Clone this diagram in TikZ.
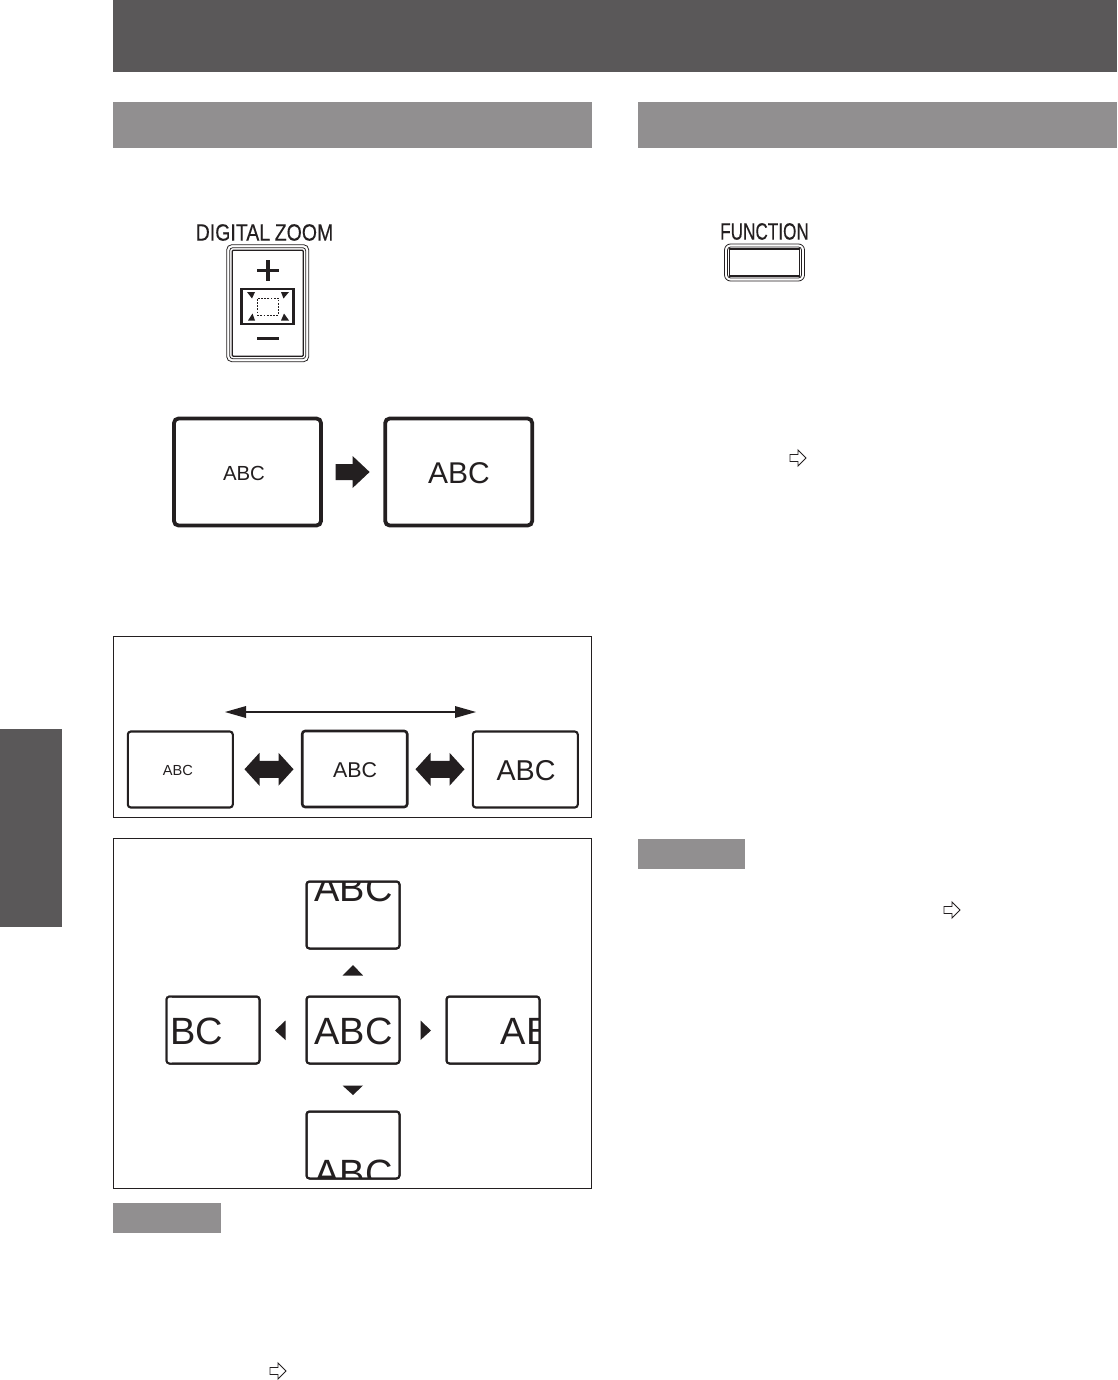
\documentclass[tikz,border=0pt]{standalone}
\usepackage{fontspec}
\setmainfont{Liberation Sans}
\newfontfamily\keyfont[FakeBold=0.35]{Liberation Sans}
\usetikzlibrary{calc}
\definecolor{band}{HTML}{5A5859}
\definecolor{sect}{HTML}{918F90}
\definecolor{ink}{HTML}{231F20}
\tikzset{
  x=1pt,y=-1pt,
  fillbox/.style={draw=none,inner sep=0pt,outer sep=0pt,anchor=north west},
  screen/.style={draw=ink,rounded corners=3pt,inner sep=0pt,outer sep=0pt,fill=white},
  bigscreen/.style={screen,rounded corners=4.5pt,line width=3.8pt,minimum width=147pt,minimum height=107pt},
  midscreen/.style={screen,line width=2.6pt,minimum width=105pt,minimum height=76pt},
  smallscreen/.style={screen,line width=2pt,minimum width=93pt,minimum height=67pt},
  panel/.style={draw=ink,line width=1pt,inner sep=0pt,outer sep=0pt,anchor=north west},
  abc/.style={inner sep=0pt,outer sep=0pt,text=ink},
  tri/.style={fill=ink,draw=none},
  hollow/.style={draw=ink,line width=0.9pt,fill=white,line join=miter},
  keyring/.style={draw=ink,line width=0.8pt,fill=white,inner sep=0pt},
  keylabel/.style={inner sep=0pt,outer sep=0pt,text=ink,font=\keyfont\fontsize{23.5}{23.5}\selectfont}
}
\newcommand{\ptr}[2]{\draw[hollow] (#1-8,#2-3.5) -- (#1,#2-3.5) -- (#1,#2-8) -- (#1+8,#2) -- (#1,#2+8) -- (#1,#2+3.5) -- (#1-8,#2+3.5) -- cycle;}
% double block arrow centred on a named coordinate
\newcommand{\biblock}[1]{\fill[tri] ($(#1)+(-24.5,0)$) -- ++(15,-16.5) -- ++(0,8) -- ++(19,0) -- ++(0,-8) -- ++(15,16.5) -- ++(-15,16.5) -- ++(0,-8) -- ++(-19,0) -- ++(0,8) -- cycle;}
\begin{document}
\begin{tikzpicture}
\useasboundingbox (0,0) rectangle (1117,1380);
\fill[white] (0,0) rectangle (1117,1380);
% bands
\node[fillbox,fill=band,minimum width=1004pt,minimum height=72pt] (top) at (113,0) {};
\node[fillbox,fill=band,minimum width=62pt,minimum height=198pt] (tab) at (0,729) {};
\node[fillbox,fill=sect,minimum width=479pt,minimum height=46pt] (secL) at (113,102) {};
\node[fillbox,fill=sect,minimum width=479pt,minimum height=46pt] (secR) at (638,102) {};
\node[fillbox,fill=sect,minimum width=108pt,minimum height=30pt] (noteL) at (113,1203) {};
\node[fillbox,fill=sect,minimum width=107pt,minimum height=30pt] (noteR) at (638,839) {};
% DIGITAL ZOOM key
\node[keylabel,xscale=0.83] (dzlabel) at (264.5,232.5) {DIGITAL\hspace{-1pt} ZOOM};
\node[keyring,rounded corners=5pt,minimum width=82pt,minimum height=117pt] (dz1) at (267.7,303.2) {};
\node[keyring,rounded corners=3pt,minimum width=76pt,minimum height=111pt] (dz2) at (267.7,303.2) {};
\node[keyring,line width=1.2pt,rounded corners=1pt,minimum width=71pt,minimum height=106pt] (dz3) at (267.7,303.2) {};
\draw[ink,line width=3.1pt] (257,270.5) -- (279,270.5) (268,260) -- (268,281);
\draw[ink,line width=3.1pt] (257,338.5) -- (279,338.5);
\node[draw=ink,line width=2.1pt,minimum width=52pt,minimum height=35pt,inner sep=0pt] (dzbox) at (267.5,306.5) {};
\node[draw=ink,dash pattern=on 1.8pt off 1.4pt,line width=0.8pt,minimum width=21.5pt,minimum height=17pt,inner sep=0pt] (dzin) at (268,306.5) {};
\fill[tri] (247,292) -- (255,292) -- (252,298.5) -- cycle;
\fill[tri] (281,292) -- (289,292) -- (283.5,298.5) -- cycle;
\fill[tri] (248,320.5) -- (255,320.5) -- (252.5,313.5) -- cycle;
\fill[tri] (281,320.5) -- (289,320.5) -- (284,313.5) -- cycle;
% FUNCTION key
\node[keylabel,xscale=0.73] (fnlabel) at (764.5,231.5) {FUNCTION};
\node[keyring,rounded corners=6pt,minimum width=80pt,minimum height=37pt] (fn1) at (764.5,262.5) {};
\node[keyring,rounded corners=3pt,minimum width=74pt,minimum height=31pt] (fn2) at (764.5,262.5) {};
\node[keyring,line width=1.3pt,minimum width=70pt,minimum height=27pt] (fn3) at (764.5,262.5) {};
% zoom illustration
\node[bigscreen] (z1) at (247.5,472) {};
\node[abc,font=\fontsize{20.4}{20.4}\selectfont] (z1t) at (244,473) {ABC};
\node[bigscreen] (z2) at (458.7,472) {};
\node[abc,font=\fontsize{30}{30}\selectfont] (z2t) at (459,473) {ABC};
\coordinate (zarrow) at ($(z1.east)!0.5!(z2.west)$);
\fill[tri] ($(zarrow)+(-17.5,-8)$) -- ++(17,0) -- ++(0,-8) -- ++(17,16) -- ++(-17,16) -- ++(0,-8) -- ++(-17,0) -- cycle;
% panel 1
\node[panel,minimum width=478pt,minimum height=181pt] (p1) at (113.5,636.5) {};
\node[midscreen,line width=2.1pt] (a1) at (180.3,769.5) {};
\node[abc,font=\fontsize{14.6}{14.6}\selectfont] (a1t) at (178,770.5) {ABC};
\node[midscreen] (a2) at (354.7,769) {};
\node[abc,font=\fontsize{21.4}{21.4}\selectfont] (a2t) at (355,770.5) {ABC};
\node[midscreen,line width=2.1pt] (a3) at (525.3,769.5) {};
\node[abc,font=\fontsize{28.7}{28.7}\selectfont] (a3t) at (526,770.5) {ABC};
\coordinate (ar1) at ($(a1.east)!0.5!(a2.west)+(1.5,0)$);
\coordinate (ar2) at ($(a2.east)!0.5!(a3.west)$);
\biblock{ar1}
\biblock{ar2}
\coordinate (spanL) at (225,712);
\coordinate (spanR) at (476,712);
\draw[ink,line width=1.5pt] ($(spanL)+(20,0)$) -- ($(spanR)+(-20,0)$);
\fill[tri] (spanL) -- ++(21,-6) -- ++(0,12) -- cycle;
\fill[tri] (spanR) -- ++(-21,-6) -- ++(0,12) -- cycle;
% panel 2
\node[panel,minimum width=478pt,minimum height=350pt] (p2) at (113.5,838.5) {};
\newcommand{\shifted}[4]{%
  \node[smallscreen] (#1) at (#2,#3) {};
  \begin{scope}
    \clip ($(#1.south west)+(0.4,-0.4)$) rectangle ($(#1.north east)+(-0.4,0.4)$);
    #4
  \end{scope}
  \node[smallscreen,fill=none] (#1f) at (#2,#3) {};
}
\tikzset{bigabc/.style={abc,font=\fontsize{38}{38}\selectfont}}
\shifted{u}{353}{915}{\node[bigabc] (ut) at (353.5,888.5) {ABC};}
\shifted{c}{353}{1030}{\node[bigabc] (ct) at (353.5,1031.5) {ABC};}
\shifted{l}{213}{1030}{\node[bigabc] (lt) at (184,1031.5) {ABC};\fill[white] (166,990) rectangle (171.7,1070);}
\shifted{r}{493}{1030}{\node[bigabc] (rt) at (540,1031.5) {ABC};}
\shifted{d}{353}{1145}{\node[bigabc] (dt) at (353.5,1173) {ABC};}
\fill[tri] (342.5,975.5) -- (363,975.5) -- (353,965) -- cycle;
\fill[tri] (342.5,1085.5) -- (363,1085.5) -- (353,1095) -- cycle;
\fill[tri] (285.5,1020.5) -- (285.5,1040) -- (275,1030.5) -- cycle;
\fill[tri] (420.5,1020.5) -- (420.5,1040) -- (431,1030.5) -- cycle;
% pointers
\ptr{798}{458}
\ptr{952}{910}
\ptr{278}{1371}
\end{tikzpicture}
\end{document}
